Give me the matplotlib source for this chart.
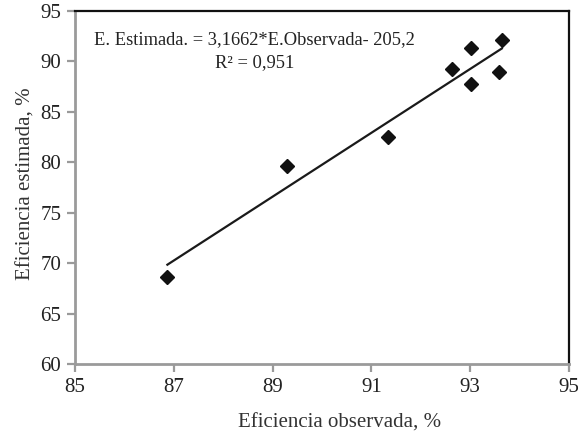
"""
 eficiencia observada vs estimada
"""
import matplotlib
matplotlib.use('Agg')
import matplotlib.pyplot as plt
import numpy as np

ef_obs = [86.87, 89.29, 91.33, 92.63, 93.02, 93.02, 93.58, 93.64]
ef_est = [68.6, 79.65, 82.5, 89.24, 91.35, 87.75, 89.0, 92.14]
slope, icpt = 3.1662, -205.2
xticks = [85, 87, 89, 91, 93, 95]
yticks = [60, 65, 70, 75, 80, 85, 90, 95]

plt.rcParams['font.family'] = ['Liberation Serif', 'DejaVu Serif']
plt.rcParams['font.size'] = 15

fig = plt.figure(figsize=(5.78, 4.32), dpi=100)
ax = fig.add_axes([0.1298, 0.1574, 0.8546, 0.8171])

xl = np.array([min(ef_obs), max(ef_obs)])
ax.plot(xl, slope*xl + icpt, color='#1a1a1a', lw=1.6)
ax.plot(ef_obs, ef_est, 'D', color='#111111', ms=7.5, mec='#111111')

ax.set_xlim(85, 95)
ax.set_ylim(60, 95)
ax.set_xticks(xticks)
ax.set_yticks(yticks)

for s in ['left', 'bottom']:
    ax.spines[s].set_color('#9a9a9a')
    ax.spines[s].set_linewidth(2)
for s in ['top', 'right']:
    ax.spines[s].set_color('#111111')
    ax.spines[s].set_linewidth(1.6)
ax.tick_params(direction='out', length=6, width=1.6, color='#9a9a9a',
               labelcolor='#222222', pad=4)

ax.set_xlabel('Eficiencia observada, %', color='#333333', fontsize=15)
ax.xaxis.set_label_coords(0.535, -0.139)
ax.set_ylabel('Eficiencia estimada, %', color='#333333', fontsize=15)
ax.yaxis.set_label_coords(-0.08, 0.51)

ax.text(0.364, 0.918, 'E. Estimada. = 3,1662*E.Observada- 205,2',
        transform=ax.transAxes, ha='center', va='center', fontsize=13.3,
        color='#222222')
ax.text(0.364, 0.855, 'R² = 0,951', transform=ax.transAxes,
        ha='center', va='center', fontsize=13.3, color='#222222')

plt.savefig('out.png', dpi=100)
